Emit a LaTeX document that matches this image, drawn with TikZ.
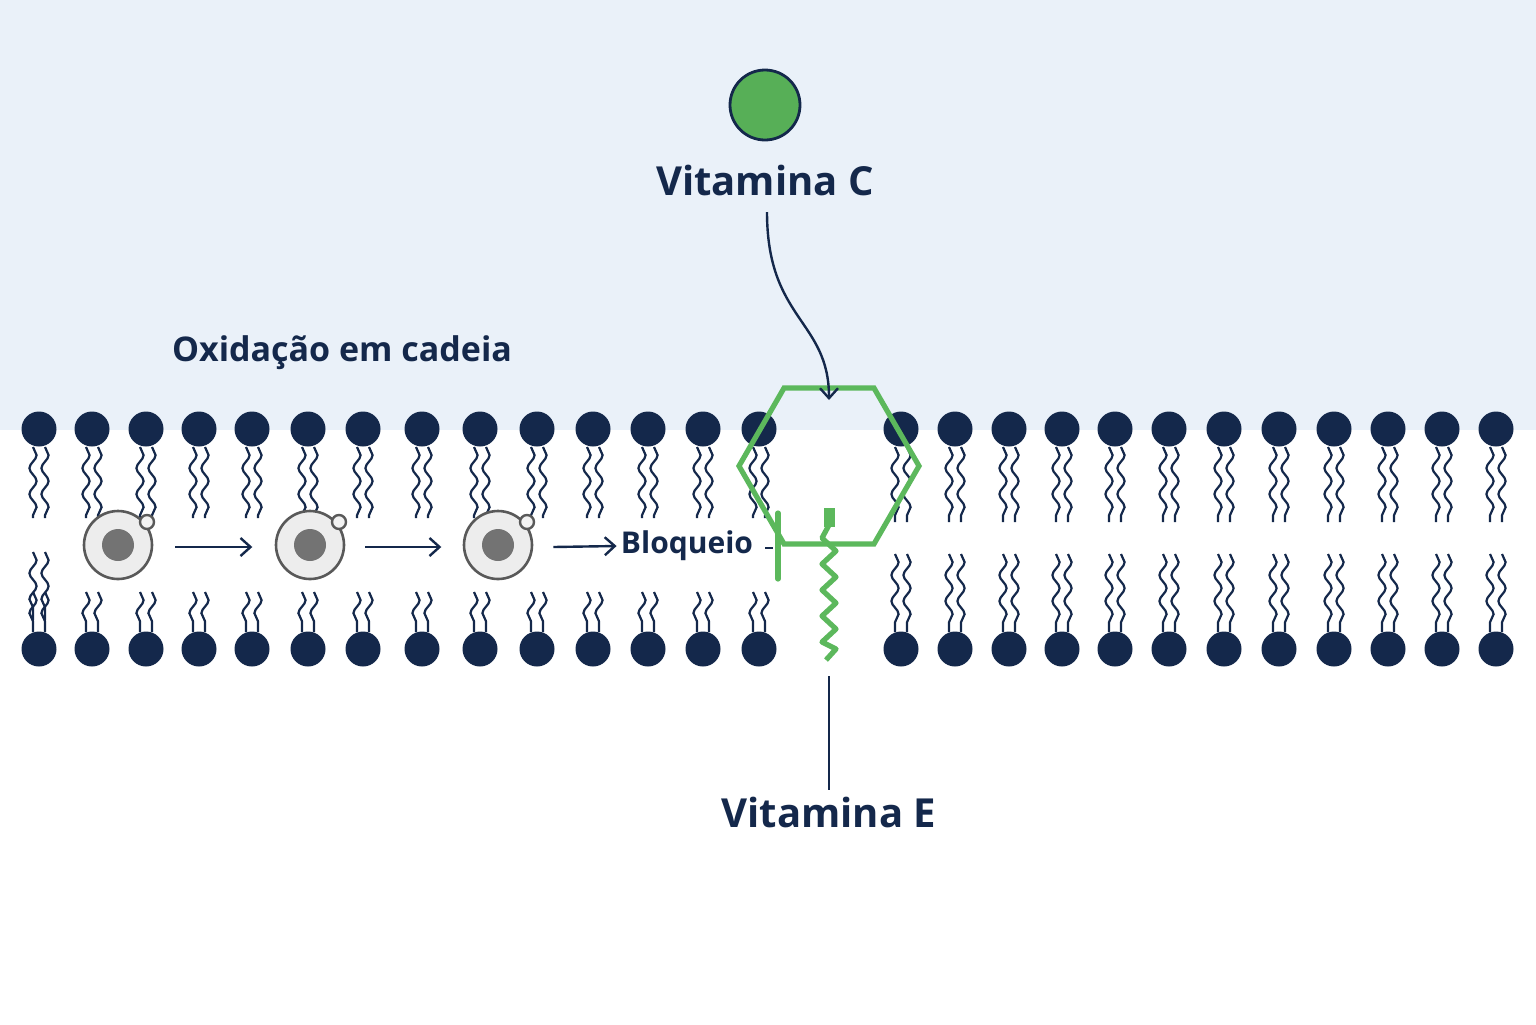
\documentclass[tikz,border=0pt]{standalone}
\usepackage{fontspec}
\setmainfont{Open Sans}
\usetikzlibrary{decorations.pathmorphing,arrows.meta,shapes.geometric}
\definecolor{navy}{HTML}{14284B}
\definecolor{sky}{HTML}{EAF1F9}
\definecolor{leaf}{HTML}{5CB85C}
\begin{document}
\begin{tikzpicture}[x=0.5pt,y=-0.5pt,
  head/.style={circle,fill=navy,minimum size=17.5pt,inner sep=0pt},
  tail/.style={draw=navy,line width=1.1pt,decorate,decoration={snake,segment length=13pt,amplitude=1.8pt}},
  radical/.style={circle,draw=black!65,line width=1.3pt,fill=black!7,minimum size=34pt,inner sep=0pt},
  arr/.style={draw=navy,line width=1.2pt,-{Straight Barb[length=5pt,width=9pt]}},
  lbl/.style={text=navy,font=\bfseries}]
\fill[sky] (0,0) rectangle (1536,430);
\fill[white] (0,430) rectangle (1536,1024);
\useasboundingbox (0,0) rectangle (1536,1024);
% lipid tails and heads
\foreach \i/\x in {1/39,2/92,3/146,4/199,5/252,6/308,7/363,8/422,9/480,10/537,11/593,12/648,13/703,14/759}{
  \draw[tail] (\x-6,447) -- (\x-6,518);
  \draw[tail] (\x+6,447) -- (\x+6,518);
  \draw[tail] (\x-6,592) -- (\x-6,632);
  \draw[tail] (\x+6,592) -- (\x+6,632);
  \node[head] (t\i) at (\x,429) {};
  \node[head] (b\i) at (\x,649) {};
}
\foreach \i/\x in {15/901,16/955,17/1009,18/1062,19/1115,20/1169,21/1224,22/1279,23/1334,24/1388,25/1442,26/1496}{
  \draw[tail] (\x-6,447) -- (\x-6,522);
  \draw[tail] (\x+6,447) -- (\x+6,522);
  \draw[tail] (\x-6,554) -- (\x-6,632);
  \draw[tail] (\x+6,554) -- (\x+6,632);
  \node[head] (t\i) at (\x,429) {};
  \node[head] (b\i) at (\x,649) {};
}
\draw[tail] (33,552) -- (33,620); \draw[tail] (45,552) -- (45,620);
% radicals
\foreach \n/\x in {r1/118,r2/310,r3/498}{
  \node[radical] (\n) at (\x,545) {};
  \fill[black!55] (\x,545) circle (16);
  \draw[black!65,line width=1.2pt,fill=black!5] (\x+29,522) circle (7);
}
\node[lbl,font=\bfseries\fontsize{15}{18}\selectfont,inner sep=2pt] (blq) at (687,546) {Bloqueio};
\draw[arr] (r1.east)++(22,2) -- ++(77,0);
\draw[arr] (r2.east)++(20,2) -- ++(76,0);
\draw[arr] (r3.east)++(20,2) -- (blq.west);
% vitamin E
\node[regular polygon,regular polygon sides=6,draw=leaf,line width=2.6pt,minimum size=90pt,inner sep=0pt] (hex) at (829,466) {};
\fill[leaf] (824,508) rectangle (835,527);
\draw[leaf,line width=2.6pt,line join=round] (829,525) -- (822,538) -- (836,551) -- (822,564) -- (836,577) -- (822,590) -- (836,603) -- (822,616) -- (836,629) -- (822,642) -- (836,649) -- (826,660);
\coordinate (barT) at (778,513); \coordinate (barB) at (778,579);
\draw[leaf,line width=2.6pt,line cap=round] (barT) -- (barB);
\draw[navy,line width=1.2pt] (blq.east)++(8,2) -- (773,548);
\node[lbl,font=\bfseries\fontsize{20}{24}\selectfont] (vitE) at (829,812) {Vitamina E};
\coordinate (eTop) at (829,676);
\draw[navy,line width=1.4pt] (eTop) -- (vitE.north);
% vitamin C
\node[circle,draw=navy,line width=1.4pt,fill=leaf!95!black,minimum size=35pt,inner sep=0pt] (vc) at (765,105) {};
\node[lbl,font=\bfseries\fontsize{20}{24}\selectfont] (vitC) at (765,180) {Vitamina C};
\coordinate (hexTop) at (829,400);
\draw[arr] (767,212) .. controls (767,320) and (829,320) .. (hexTop);
\node[lbl,font=\bfseries\fontsize{17}{20}\selectfont] (ox) at (342,353) {Oxidação em cadeia};
\end{tikzpicture}
\end{document}
